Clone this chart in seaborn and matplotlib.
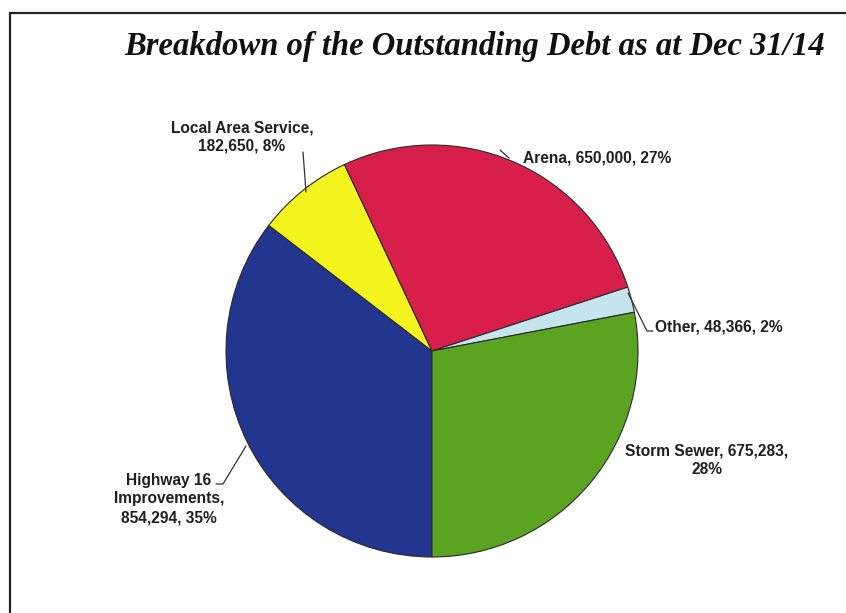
import matplotlib
matplotlib.use("Agg")
import matplotlib.pyplot as plt
import seaborn as sns
from matplotlib.lines import Line2D
from matplotlib.patches import Rectangle

# Outstanding debt by category, in drawing order (clockwise from 6 o'clock)
categories = ["Highway 16 Improvements", "Local Area Service", "Arena", "Other", "Storm Sewer"]
amounts = [854294, 182650, 650000, 48366, 675283]
colors = ["#22358F", "#F4F41E", "#D81F4C", "#C6E4EE", "#5BA422"]
label_templates = [
    "Highway 16\nImprovements,\n{v}, {p}%",
    "Local Area Service,\n{v}, {p}%",
    "Arena, {v}, {p}%",
    "Other, {v}, {p}%",
    "Storm Sewer, {v},\n{p}%",
]

W, H = 846, 613
sns.set_theme(style="white")
plt.rcParams["font.family"] = ["Liberation Sans", "DejaVu Sans"]

fig = plt.figure(figsize=(W / 100, H / 100), dpi=100)
fig.patch.set_facecolor("white")


def fx(x):
    return x / W


def fy(y):
    return 1 - y / H


# pie axes: centre (432, 351) px, radius 206 px
cx, cy, r = 432, 351, 206
ax = fig.add_axes([fx(cx - r), fy(cy + r), 2 * r / W, 2 * r / H])
ax.pie(amounts, colors=colors, startangle=-90, counterclock=False,
       radius=1.0, wedgeprops=dict(edgecolor="#2a2a2a", linewidth=0.8))
ax.set_xlim(-1, 1)
ax.set_ylim(-1, 1)
ax.set_aspect("equal")
ax.axis("off")

# chart frame (runs off the right and bottom edges)
fig.patches.append(Rectangle((fx(10), fy(700)), fx(900), (700 - 13) / H,
                             transform=fig.transFigure, fill=False,
                             edgecolor="#222222", linewidth=1.6))

fig.text(fx(475), fy(47), "Breakdown of the Outstanding Debt as at Dec 31/14",
         family="Liberation Serif", fontweight="bold", fontstyle="italic",
         fontsize=23.5, ha="center", va="center", color="#111111")

total = sum(amounts)
labels = [t.format(v=f"{a:,}", p=round(100 * a / total))
          for t, a in zip(label_templates, amounts)]

lab_style = dict(fontsize=11.2, fontweight="bold", color="#1f1f1f",
                 linespacing=1.3)
# label placements in pixels: (x, y, ha)
placements = {
    "Highway 16 Improvements": (169, 499, "center"),
    "Local Area Service": (242, 137, "center"),
    "Arena": (523, 158, "left"),
    "Other": (655, 327, "left"),
    "Storm Sewer": (707, 460, "center"),
}
for name, lab in zip(categories, labels):
    x, y, ha = placements[name]
    fig.text(fx(x), fy(y), lab, ha=ha, va="center", multialignment="center",
             **lab_style)

# leader lines
leaders = [
    [(303, 152), (306, 192)],
    [(628, 293), (647, 331), (653, 331)],
    [(216, 484), (223, 484), (246, 446)],
    [(500, 150), (509, 158)],
]
for pts in leaders:
    xs = [fx(p[0]) for p in pts]
    ys = [fy(p[1]) for p in pts]
    fig.lines.append(Line2D(xs, ys, transform=fig.transFigure,
                            color="#333333", linewidth=0.9))

fig.savefig("out.png", dpi=100, facecolor="white")
